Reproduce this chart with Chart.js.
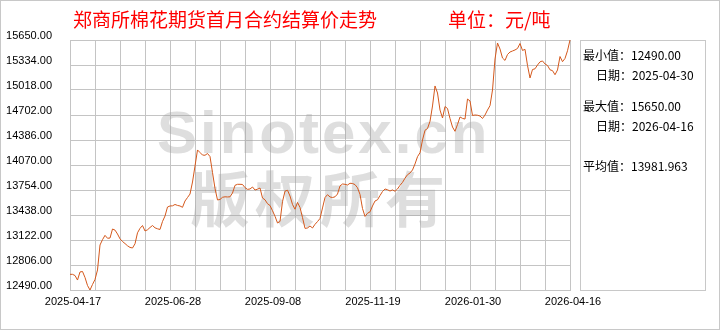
<!DOCTYPE html>
<html>
<head>
<meta charset="utf-8">
<script src="https://cdn.jsdelivr.net/npm/chart.js@4/dist/chart.umd.min.js"></script>
<style>
  html, body { margin: 0; padding: 0; background: #fff; }
  canvas { display: block; }
</style>
</head>
<body>
<canvas id="chart" width="720" height="330"></canvas>
<script>
// 标题和单位
const chartTitle = '郑商所棉花期货首月合约结算价走势';
const unitText = '单位：元/吨';

// x 轴刻度标签（每 40 个点一个）
const xTickLabels = ['2025-04-17', '2025-06-28', '2025-09-08', '2025-11-19', '2026-01-30', '2026-04-16'];

// y 轴范围
const yMin = 12490;
const yMax = 15650;
const yStep = 316;

// 结算价
const prices = [
  12688, 12688, 12673, 12616, 12718, 12724, 12648, 12547, 12490, 12560,
  12623, 12743, 13059, 13126, 13181, 13144, 13147, 13261, 13247, 13198,
  13137, 13103, 13077, 13049, 13028, 13021, 13074, 13213, 13269, 13305,
  13236, 13251, 13280, 13305, 13276, 13264, 13255, 13356, 13425, 13539,
  13552, 13554, 13571, 13559, 13552, 13535, 13615, 13659, 13703, 13855,
  14057, 14260, 14228, 14196, 14193, 14215, 14177, 13975, 13773, 13628,
  13634, 13662, 13668, 13666, 13668, 13716, 13813, 13826, 13826, 13824,
  13784, 13762, 13767, 13792, 13754, 13764, 13779, 13653, 13630, 13581,
  13558, 13492, 13422, 13337, 13356, 13609, 13739, 13751, 13678, 13571,
  13511, 13597, 13533, 13406, 13269, 13274, 13299, 13274, 13320, 13355,
  13394, 13527, 13659, 13695, 13666, 13659, 13668, 13703, 13805, 13830,
  13826, 13817, 13839, 13836, 13822, 13782, 13698, 13520, 13420, 13460,
  13478, 13552, 13615, 13630, 13684, 13735, 13767, 13757, 13741, 13755,
  13738, 13767, 13813, 13850, 13903, 13947, 13969, 14007, 14083, 14175,
  14225, 14386, 14509, 14531, 14622, 14816, 15069, 14980, 14765, 14664,
  14809, 14784, 14658, 14550, 14496, 14582, 14677, 14659, 14651, 14904,
  14879, 14696, 14702, 14699, 14689, 14658, 14702, 14765, 14820, 15018,
  15410, 15612, 15536, 15422, 15392, 15467, 15498, 15511, 15524, 15543,
  15606, 15518, 15532, 15328, 15170, 15277, 15286, 15334, 15374, 15385,
  15347, 15328, 15273, 15263, 15211, 15271, 15441, 15376, 15417, 15514,
  15650
];

// 右侧统计
const statLines = [
  { label: '最小值：', value: '12490.00', indent: false },
  { label: '日期：', value: '2025-04-30', indent: true },
  { label: '最大值：', value: '15650.00', indent: false },
  { label: '日期：', value: '2026-04-16', indent: true },
  { label: '平均值：', value: '13981.963', indent: false }
];
const statRows = [55.5, 75.5, 106, 126, 166];

const cjkFont = '"Noto Sans CJK SC", sans-serif';
const gridColor = '#c4c4c4';

const extrasPlugin = {
  id: 'extras',
  beforeDatasetsDraw(chart) {
    // 水印
    const ctx = chart.ctx;
    ctx.save();
    ctx.fillStyle = 'rgba(160,160,160,0.35)';
    ctx.textBaseline = 'alphabetic';
    ctx.textAlign = 'left';
    ctx.font = 'bold 60px "Liberation Sans", sans-serif';
    ctx.letterSpacing = '3px';
    ctx.fillText('Sinotex.cn', 157, 153);
    ctx.font = 'bold 60px ' + cjkFont;
    ctx.letterSpacing = '5px';
    ctx.fillText('版权所有', 190, 222);
    ctx.restore();
  },
  afterDraw(chart) {
    const ctx = chart.ctx;
    ctx.save();
    // 外框
    ctx.strokeStyle = '#c8c8c8';
    ctx.lineWidth = 1;
    ctx.strokeRect(0.5, 0.5, 719, 329);
    // 右侧面板
    ctx.strokeRect(580.5, 40.5, 125, 250);

    // 标题
    ctx.fillStyle = '#f00';
    ctx.textBaseline = 'middle';
    ctx.textAlign = 'left';
    ctx.font = '19px ' + cjkFont;
    ctx.fillText(chartTitle, 73, 20);
    ctx.fillText(unitText, 448, 20);

    // 统计文字
    ctx.fillStyle = '#000';
    ctx.font = '12px ' + cjkFont;
    statLines.forEach((s, i) => {
      ctx.fillText(s.label + s.value, s.indent ? 596 : 583, statRows[i]);
    });
    ctx.restore();
  }
};

new Chart(document.getElementById('chart'), {
  type: 'line',
  data: {
    datasets: [{
      data: prices.map((v, i) => ({ x: i, y: v })),
      borderColor: '#d4581c',
      borderWidth: 1,
      pointRadius: 0,
      tension: 0,
      fill: false,
      clip: false
    }]
  },
  options: {
    responsive: false,
    animation: false,
    layout: { padding: { left: 0, top: 40, right: 150, bottom: 0 } },
    plugins: {
      legend: { display: false },
      tooltip: { enabled: false }
    },
    scales: {
      x: {
        type: 'linear',
        min: 0,
        max: prices.length - 1,
        afterFit(scale) { scale.height = 40; },
        grid: { color: gridColor, drawTicks: false },
        border: { color: gridColor },
        ticks: {
          stepSize: 10,
          autoSkip: false,
          maxRotation: 0,
          padding: 5,
          labelOffset: 3,
          color: '#000',
          font: { family: '"Liberation Sans", sans-serif', size: 11 },
          callback: function (value) {
            return value % 40 === 0 ? xTickLabels[value / 40] : '';
          }
        }
      },
      y: {
        min: yMin,
        max: yMax,
        afterFit(scale) { scale.width = 70; },
        grid: { color: gridColor, drawTicks: false },
        border: { color: gridColor },
        ticks: {
          stepSize: yStep,
          padding: 18,
          labelOffset: -4,
          color: '#000',
          font: { family: '"Liberation Sans", sans-serif', size: 11 },
          callback: function (value) {
            return value.toFixed(2);
          }
        }
      }
    }
  },
  plugins: [extrasPlugin]
});
</script>
</body>
</html>
